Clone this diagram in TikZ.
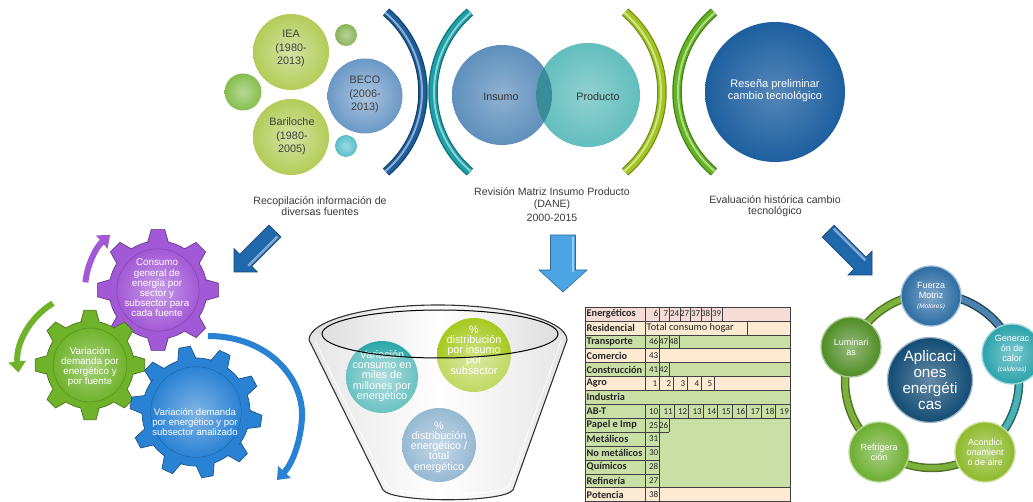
\documentclass[tikz,border=0pt]{standalone}
\usepackage{fontspec}
\setmainfont{Liberation Sans}
\newfontfamily\calib{Carlito}
\usetikzlibrary{arrows.meta}

\definecolor{capgray}{HTML}{3A3A3A}
\definecolor{ieagreen}{HTML}{B3CC58}
\definecolor{becoblue}{HTML}{6A98C6}
\definecolor{smallgreenA}{HTML}{86BE4E}
\definecolor{smallgreenB}{HTML}{8AB55A}
\definecolor{smallteal}{HTML}{58BFCB}
\definecolor{arcblue}{HTML}{1B5E9B}
\definecolor{arcteal}{HTML}{1AA0A8}
\definecolor{arcyellow}{HTML}{A3C61C}
\definecolor{arcgreen}{HTML}{62B420}
\definecolor{insumo}{HTML}{5F90BC}
\definecolor{producto}{HTML}{62BEBD}
\definecolor{overlap}{HTML}{3A8C99}
\definecolor{resena}{HTML}{1D5F9F}
\definecolor{arrowdark}{HTML}{2068AC}
\definecolor{arrowlight}{HTML}{4BA4E4}
\definecolor{gearpurple}{HTML}{A259D6}
\definecolor{geargreen}{HTML}{6FB32A}
\definecolor{gearblue}{HTML}{2A82D4}
\definecolor{fteal}{HTML}{2BA8A8}
\definecolor{fyellow}{HTML}{A6C91E}
\definecolor{fgrey}{HTML}{6A9BC0}
\definecolor{tpink}{HTML}{F6DCD6}
\definecolor{tcream}{HTML}{FCEBD2}
\definecolor{tgreen}{HTML}{CADFA6}
\definecolor{cfuerza}{HTML}{2C6CA3}
\definecolor{cgen}{HTML}{2AA3AB}
\definecolor{cacond}{HTML}{8DBA2B}
\definecolor{crefr}{HTML}{6CAE2F}
\definecolor{clumin}{HTML}{4F8D24}
\definecolor{ccenter}{HTML}{114B74}
\definecolor{ringgreen}{HTML}{7DB23A}

% thick bracket-like arc with a lighter core
\newcommand\rimarc[5]{%
  \draw[#5!70!black, line width=9.5] (#1,#2) ++(#3:105) arc[start angle=#3, end angle=#4, radius=105];
  \draw[#5, line width=7] (#1,#2) ++(#3:105) arc[start angle=#3, end angle=#4, radius=105];
  \draw[#5!50!white, line width=2] (#1,#2) ++(#3:104) arc[start angle=#3, end angle=#4, radius=104];}

% cog wheel: centre x, centre y, teeth, root radius, tip radius, first tooth angle, colour
\newcommand\drawgear[7]{%
  \begin{scope}[shift={(#1,#2)}]
    \pgfmathsetmacro\gs{360/#3}
    \pgfmathtruncatemacro\gn{#3-1}
    \filldraw[fill=#7, draw=#7!65!black, line width=0.7]
      ({#6-0.27*\gs}:#4)
      \foreach \k in {0,...,\gn}{
        -- ({#6+\k*\gs-0.27*\gs}:#4)
        -- ({#6+\k*\gs-0.14*\gs}:#5)
        -- ({#6+\k*\gs+0.14*\gs}:#5)
        -- ({#6+\k*\gs+0.27*\gs}:#4)
        arc[start angle={#6+\k*\gs+0.27*\gs}, delta angle={0.46*\gs}, radius=#4]
      } -- cycle;
    \shade[inner color=#7!60!white, outer color=#7] (0,0) circle[radius={0.84*#4}];
    \draw[#7!80!black, line width=0.5] (0,0) circle[radius={0.84*#4}];
  \end{scope}}

% block arrow: tip x, tip y, rotation, length, head length, head half width, shaft half width, colour
\newcommand\blockarrow[8]{%
  \begin{scope}[shift={(#1,#2)}, rotate=#3]
    \filldraw[fill=#8, draw=#8!65!black, line width=0.6]
      (0,0) -- (-#5,#6) -- (-#5,#7) -- (-#4,#7) -- (-#4,-#7) -- (-#5,-#7) -- (-#5,-#6) -- cycle;
    \fill[#8!55!white] (-#5+2,-#7+1.5) rectangle (-#4+2,-#7+4);
  \end{scope}}

\tikzset{
  caption/.style={align=center, text=capgray, font=\fontsize{10.6}{11.5}\selectfont, inner sep=0pt},
  bubble/.style={circle, inner sep=0pt, minimum size=#1},
  bubtext/.style={align=center, text=black!75, font=\fontsize{10.8}{12.5}\selectfont, inner sep=0pt},
  wtext/.style={align=center, text=white, inner sep=0pt, font=\fontsize{9.8}{10.2}\selectfont},
  ftext/.style={align=center, text=white, inner sep=0pt, font=\fontsize{10.8}{10.2}\selectfont},
  sat/.style={circle, inner sep=0pt, minimum size=60, align=center, text=white,
              font=\fontsize{9}{10}\selectfont, line width=1.3},
  tline/.style={draw=black!75, line width=0.5},
  tlab/.style={anchor=west, inner sep=0pt, text=black!85, font=\calib\bfseries\fontsize{10.3}{11}\selectfont},
  tnum/.style={anchor=east, inner sep=0pt, text=black!85, font=\calib\fontsize{9}{10}\selectfont},
  gearline/.style={line width=6, line cap=butt, -{Triangle[length=11pt,width=17pt]}},
}

\begin{document}
\begin{tikzpicture}[x=1pt,y=-1pt]
\useasboundingbox (0,0) rectangle (1033,502);
\clip (0,0) rectangle (1033,502);
\fill[white] (0,0) rectangle (1033,502);

% ---------- sources ----------
\node[bubble=37, inner color=smallgreenA!60!white, outer color=smallgreenA] (sm1) at (243,92) {};
\node[bubble=22, inner color=smallgreenB!60!white, outer color=smallgreenB] (sm2) at (346,35) {};
\node[bubble=22, inner color=smallteal!60!white, outer color=smallteal] (sm3) at (346,146) {};
\node[bubble=76, inner color=ieagreen!55!white, outer color=ieagreen] (iea) at (291,52) {};
\node[bubble=76, inner color=ieagreen!55!white, outer color=ieagreen] (bari) at (291,137) {};
\node[bubble=75, inner color=becoblue!55!white, outer color=becoblue] (beco) at (365,96) {};
\node[bubtext] (ieat) at (291,48) {IEA\\[2pt](1980-\\2013)};
\node[bubtext] (barit) at (292,136) {Bariloche\\[2pt](1980-\\2005)};
\node[bubtext] (becot) at (365,94) {BECO\\[2pt](2006-\\2013)};

% ---------- bracket arcs ----------
\rimarc{318}{92}{-49.6}{49.6}{arcblue}
\rimarc{538}{92}{130.4}{229.6}{arcteal}
\rimarc{557}{92}{-49.6}{49.6}{arcyellow}
\rimarc{782}{92}{130.4}{229.6}{arcgreen}

% ---------- input-output ----------
\node[bubble=100, inner color=insumo!70!white, outer color=insumo] (ins) at (502,95) {};
\node[bubble=104, inner color=producto!70!white, outer color=producto] (prod) at (588,95) {};
\begin{scope}
  \clip (502,95) circle[radius=50];
  \fill[overlap] (588,95) circle[radius=52];
\end{scope}
\node[bubtext, text=black!80] (inst) at (501,97) {Insumo};
\node[bubtext, text=black!80] (prodt) at (598,97) {Producto};

% ---------- technology review ----------
\node[bubble=140, inner color=resena!75!white, outer color=resena] (res) at (775,92) {};
\node[wtext, font=\fontsize{11}{12}\selectfont] (rest) at (775,91) {Reseña preliminar\\cambio tecnológico};

% ---------- captions ----------
\node[caption] (cap1) at (320,206) {Recopilación información de\\diversas fuentes};
\node[caption] (cap2) at (552,205) {Revisión Matriz Insumo Producto\\(DANE)\\[3pt]2000-2015};
\node[caption] (cap3) at (775,206) {Evaluación histórica cambio\\tecnológico};

% ---------- block arrows ----------
\blockarrow{234}{272}{225}{58}{16.5}{16.5}{8.5}{arrowdark}
\blockarrow{563}{292}{270}{57}{22}{24}{12.5}{arrowlight}
\blockarrow{872}{275}{315}{62}{17}{17}{8.5}{arrowdark}

% ---------- gears ----------
\draw[gearline, gearpurple] (158,290) ++(186:73) arc[start angle=186, end angle=229, radius=73];
\draw[gearline, geargreen] (90,365) ++(239:72) arc[start angle=239, end angle=174, radius=72];
\draw[gearline, gearblue] (208,336) .. controls (268,336) and (304,378) .. (302,418)
      .. controls (300,446) and (291,465) .. (277,480);
\drawgear{158}{290}{8}{49}{61}{-90}{gearpurple}
\drawgear{90}{365}{8}{44}{55}{-90}{geargreen}
\drawgear{196}{412}{10}{54}{66}{-100}{gearblue}
\node[wtext] (gpt) at (157,288) {Consumo\\general de\\energía por\\sector y\\subsector para\\cada fuente};
\node[wtext] (ggt) at (90,367) {Variación\\demanda por\\energético y\\por fuente};
\node[wtext, font=\fontsize{9.6}{10.2}\selectfont] (gbt) at (195,422) {Variación demanda\\por energético y por\\subsector analizado};

% ---------- funnel ----------
\fill[left color=gray!28, right color=gray!28, middle color=white]
  (309,340) -- (383,490) .. controls (393,503) and (503,503) .. (513,490) -- (567,340)
  arc[start angle=0, end angle=-180, x radius=129, y radius=35] -- cycle;
\node[bubble=72, inner color=fteal!55!white, outer color=fteal] (fc1) at (382,377) {};
\node[bubble=74, inner color=fyellow!55!white, outer color=fyellow] (fc2) at (474,355) {};
\node[bubble=74, inner color=fgrey!55!white, outer color=fgrey] (fc3) at (439,445) {};
\node[ftext] (fc1t) at (382,376) {Variación\\consumo en\\miles de\\millones por\\energético};
\node[ftext] (fc2t) at (474,350) {\%\\distribución\\por insumo\\por\\subsector};
\node[ftext] (fc3t) at (439,447) {\%\\distribución\\energético /\\total\\energético};
\begin{scope}
  \clip (309,340) -- (383,490) .. controls (393,503) and (503,503) .. (513,490) -- (567,340)
    arc[start angle=0, end angle=-180, x radius=129, y radius=35] -- cycle;
  \fill[white, opacity=0.3] (322,334) arc[start angle=180, end angle=0, x radius=118, y radius=24]
    -- (600,334) -- (600,502) -- (300,502) -- (300,334) -- cycle;
\end{scope}
\draw[black!80, line width=1.1]
  (309,340) -- (383,490) .. controls (393,503) and (503,503) .. (513,490) -- (567,340)
  arc[start angle=0, end angle=-180, x radius=129, y radius=35] -- cycle;
\draw[white, line width=0.8]
  (315,341) -- (387,486) .. controls (397,497) and (499,497) .. (509,486) -- (561,341);
\draw[black, line width=1] (440,334) ellipse[x radius=118, y radius=24];

% ---------- table ----------
\fill[tpink]  (585,307)   rectangle (790,320.9);
\fill[tcream] (585,320.9) rectangle (790,334.8);
\fill[tgreen] (585,334.8) rectangle (790,348.7);
\fill[tcream] (585,348.7) rectangle (790,362.6);
\fill[tgreen] (585,362.6) rectangle (790,376.5);
\fill[tcream] (585,376.5) rectangle (790,390.4);
\fill[tgreen] (585,390.4) rectangle (790,487.7);
\fill[tcream] (585,487.7) rectangle (790,501.6);
\foreach \yy in {307,320.9,334.8,348.7,362.6,376.5,390.4,404.3,418.2,487.7,501.6}
  \draw[tline] (585,\yy) -- (790,\yy);
\draw[tline] (585,432.1) -- (669,432.1);
\foreach \yy in {446,459.9,473.8} \draw[tline] (585,\yy) -- (659,\yy);
\draw[tline] (585,307) -- (585,501.6);
\draw[tline] (790,307) -- (790,501.6);
\draw[tline] (645,307) -- (645,390.4);
\draw[tline] (645,404.3) -- (645,501.6);
\foreach \xx in {659,669,680,690,701,711,722} \draw[tline] (\xx,307) -- (\xx,320.9);
\draw[tline] (747,320.9) -- (747,334.8);
\foreach \xx in {659,669,679} \draw[tline] (\xx,334.8) -- (\xx,348.7);
\draw[tline] (659,348.7) -- (659,362.6);
\foreach \xx in {659,669} \draw[tline] (\xx,362.6) -- (\xx,376.5);
\foreach \xx in {659,673,687,701,714} \draw[tline] (\xx,376.5) -- (\xx,390.4);
\foreach \k in {1,...,9} \draw[tline] ({645+14.5*\k},404.3) -- ({645+14.5*\k},418.2);
\draw[tline] (659,418.2) -- (659,487.7);
\draw[tline] (669,418.2) -- (669,432.1);
\draw[tline] (659,487.7) -- (659,501.6);

\node[tlab] (rEn) at (586.5,313.95) {Energéticos};
\node[tlab] (rRe) at (586.5,327.85) {Residencial};
\node[tlab] (rTr) at (586.5,341.75) {Transporte};
\node[tlab] (rCo) at (586.5,355.65) {Comercio};
\node[tlab] (rCn) at (586.5,369.55) {Construcción};
\node[tlab] (rAg) at (586.5,383.45) {Agro};
\node[tlab] (rIn) at (586.5,397.35) {Industria};
\node[tlab] (rAB) at (586.5,411.25) {AB-T};
\node[tlab] (rPa) at (586.5,425.15) {Papel e Imp};
\node[tlab] (rMe) at (586.5,439.05) {Metálicos};
\node[tlab] (rNo) at (586.5,452.95) {No metálicos};
\node[tlab] (rQu) at (586.5,466.85) {Químicos};
\node[tlab] (rRf) at (586.5,480.75) {Refinería};
\node[tlab] (rPo) at (586.5,494.65) {Potencia};

\foreach \v/\xe in {6/659,7/669,24/680,27/690,37/701,38/711,39/722}
  \node[tnum] (en\v) at (\xe-0.6,313.95) {\v};
\node[tnum, anchor=west, font=\calib\fontsize{10.3}{11}\selectfont] (hogar) at (646.5,327.85) {Total consumo hogar};
\foreach \v/\xe in {46/659,47/669,48/679}
  \node[tnum] (tr\v) at (\xe-0.6,341.75) {\v};
\node[tnum] (co43) at (658.4,355.65) {43};
\foreach \v/\xe in {41/659,42/669}
  \node[tnum] (cn\v) at (\xe-0.6,369.55) {\v};
\foreach \v/\xe in {1/659,2/673,3/687,4/701,5/714}
  \node[tnum] (ag\v) at (\xe-1.5,383.45) {\v};
\foreach \v [count=\k] in {10,...,19}
  \node[tnum] (ab\v) at ({645+14.5*\k-1},411.25) {\v};
\foreach \v/\xe in {25/659,26/669}
  \node[tnum] (pa\v) at (\xe-0.6,425.15) {\v};
\node[tnum] (me31) at (658.4,439.05) {31};
\node[tnum] (no30) at (658.4,452.95) {30};
\node[tnum] (qu28) at (658.4,466.85) {28};
\node[tnum] (rf27) at (658.4,480.75) {27};
\node[tnum] (po38) at (658.4,494.65) {38};

% ---------- energy applications ----------
\draw[ringgreen!65!black, line width=8.5] (932,381) circle[radius=87];
\draw[cfuerza!65!black, line width=8.5] (932,381) ++(-90:87) arc[start angle=-90, end angle=-18, radius=87];
\draw[cgen!65!black, line width=8.5] (932,381) ++(-18:87) arc[start angle=-18, end angle=54, radius=87];
\draw[ringgreen, line width=5.5] (932,381) circle[radius=87];
\draw[cfuerza!85!white, line width=5.5] (932,381) ++(-90:87) arc[start angle=-90, end angle=-18, radius=87];
\draw[cgen!85!white, line width=5.5] (932,381) ++(-18:87) arc[start angle=-18, end angle=54, radius=87];

\node[sat, inner color=cfuerza!60!white, outer color=cfuerza, draw=cfuerza!45!white] (fm) at (931,296)
  {Fuerza\\Motriz\\{\fontsize{6.5}{7.5}\selectfont\itshape (Motores)}};
\node[sat, inner color=cgen!60!white, outer color=cgen, draw=cgen!45!white] (gc) at (1012,354)
  {Generac\\ón de\\calor\\{\fontsize{6.5}{7.5}\selectfont\itshape (calderas)}};
\node[sat, inner color=cacond!60!white, outer color=cacond, draw=cacond!45!white] (ac) at (985,452)
  {Acondici\\onamient\\o de aire};
\node[sat, inner color=crefr!60!white, outer color=crefr, draw=crefr!45!white] (rf) at (879,452)
  {Refrigera\\ción};
\node[sat, inner color=clumin!60!white, outer color=clumin, draw=clumin!45!white] (lu) at (851,347)
  {Luminari\\as};
\node[sat, minimum size=85, inner color=ccenter!65!white, outer color=ccenter, draw=ccenter!40!white,
      font=\fontsize{15.2}{15.8}\selectfont] (ap) at (930,380)
  {Aplicaci\\ones\\energéti\\cas};

\end{tikzpicture}
\end{document}
